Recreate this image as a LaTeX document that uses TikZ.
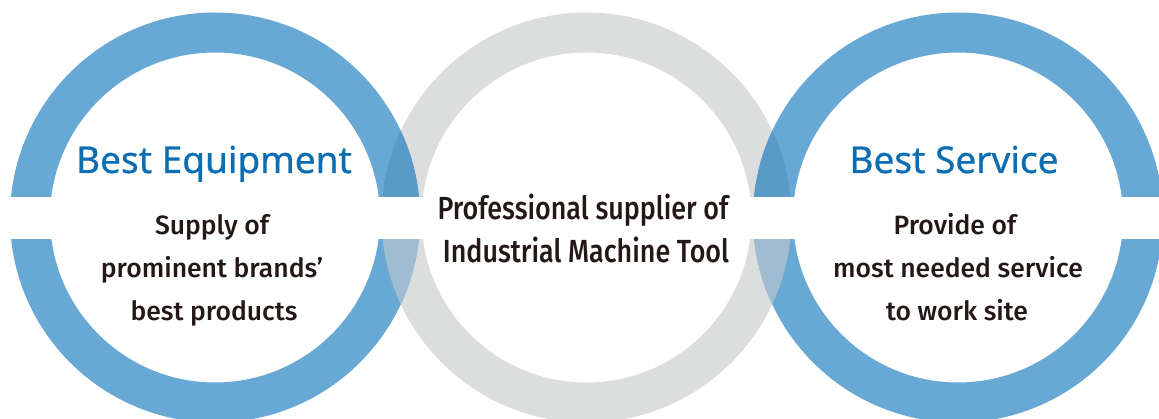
\documentclass[tikz,border=0pt]{standalone}
\usepackage{fontspec}
\setmainfont{Noto Sans}
\newfontfamily\titlefont[FakeBold=0.6]{Noto Sans}
\newfontfamily\bodyfont{Fira Sans Medium}
\definecolor{ringblue}{HTML}{68A8D4}
\definecolor{ringgrey}{HTML}{DCDEDD}
\definecolor{overdark}{HTML}{5A9AC7}
\definecolor{overlight}{HTML}{A0BCD1}
\definecolor{titleblue}{HTML}{0B6DB2}
\definecolor{textdark}{HTML}{231815}
\tikzset{
  ring/.style={line width=40pt, draw=#1},
  titletext/.style={anchor=base, inner sep=0pt, text=titleblue, font=\titlefont\fontsize{37}{37}\selectfont},
  bodytext/.style={anchor=base, inner sep=0pt, text=textdark, font=\bodyfont\fontsize{26.5}{27}\selectfont},
  midtext/.style={anchor=base, inner sep=0pt, text=textdark, font=\bodyfont\fontsize{32}{32}\selectfont},
}
\begin{document}
\begin{tikzpicture}[x=1pt,y=-1pt]
\useasboundingbox (0,0) rectangle (1159,419);
\clip (0,0) rectangle (1159,419);
\fill[white] (0,0) rectangle (1159,419);
\coordinate (cl) at (215,217.5);
\coordinate (cm) at (586.5,217.5);
\coordinate (cr) at (958,217.5);
% rings
\draw[ring=ringgrey] (cm) circle (185);
\draw[ring=ringblue] (cl) circle (185);
\draw[ring=ringblue] (cr) circle (185);
% overlaps
\foreach \c in {cl,cr}{
  \begin{scope}
    \clip (\c) ++(205,0) arc[start angle=0,end angle=360,radius=205]
          (\c) ++(165,0) arc[start angle=360,end angle=0,radius=165];
    \clip (cm) ++(205,0) arc[start angle=0,end angle=360,radius=205]
          (cm) ++(165,0) arc[start angle=360,end angle=0,radius=165];
    \fill[overdark] (0,0) rectangle (1159,218);
    \fill[overlight] (0,218) rectangle (1159,419);
  \end{scope}
}
% white band
\fill[white] (0,197) rectangle (1159,239);
% texts
\node[titletext] (t1) at (214,173) {Best Equipment};
\node[bodytext] (l1) at (212,235) {Supply of};
\node[bodytext] (l2) at (212,278) {prominent brands’};
\node[bodytext] (l3) at (214,321) {best products};
\node[midtext] (m1) at (583,220) {\scalebox{0.84}[1]{Professional supplier of}};
\node[midtext] (m2) at (586,263) {\scalebox{0.84}[1]{Industrial Machine Tool}};
\node[titletext] (t2) at (954,173) {Best Service};
\node[bodytext] (r1) at (955,235) {Provide of};
\node[bodytext] (r2) at (958,278) {most needed service};
\node[bodytext] (r3) at (957,321) {to work site};
\end{tikzpicture}
\end{document}
